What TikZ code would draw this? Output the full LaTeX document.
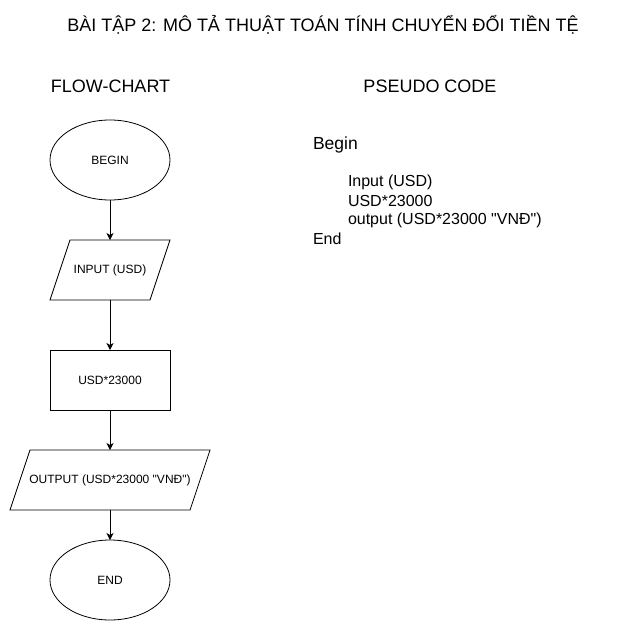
\documentclass[tikz,border=0pt]{standalone}
\usepackage{fontspec}
\setmainfont{Liberation Sans}
\newfontfamily\arial{Liberation Sans}
\usetikzlibrary{arrows.meta,shapes.geometric}
\begin{document}
\begin{tikzpicture}[x=1pt,y=-1pt,
  every node/.style={inner sep=0pt, outer sep=0pt},
  fc/.style={font=\arial\fontsize{12}{14}\selectfont, draw=black, line width=0.8pt},
  term/.style={fc, ellipse, minimum width=120pt, minimum height=80pt},
  proc/.style={fc, rectangle, minimum width=120pt, minimum height=60pt},
  io/.style={font=\arial\fontsize{12}{14}\selectfont, rectangle, minimum height=60pt},
  iobox/.style={draw=black, line width=0.8pt, line join=miter},
  head/.style={font=\arial\fontsize{18}{21}\selectfont},
  code/.style={font=\arial\fontsize{16}{19}\selectfont, anchor=west},
  arr/.style={draw=black, line width=0.8pt, -{Stealth[length=7pt,width=7pt,inset=2pt]}}
]
\useasboundingbox (0,0) rectangle (631,631);
\fill[white] (0,0) rectangle (631,631);

\node[head] (title) at (323,25) {BÀI TẬP 2: MÔ TẢ THUẬT TOÁN TÍNH CHUYỂN ĐỔI TIỀN TỆ};
\node[head] (fchead) at (110.5,86) {FLOW-CHART};
\node[head] (pchead) at (430,86) {PSEUDO CODE};

\node[term] (begin) at (110,160) {BEGIN};
\node[io, minimum width=100pt] (input) at (110,270) {INPUT (USD)};
\draw[iobox] ([xshift=10pt]input.north west) -- ([xshift=10pt]input.north east)
  -- ([xshift=-10pt]input.south east) -- ([xshift=-10pt]input.south west) -- cycle;
\node[proc] (calc) at (110,380) {USD*23000};
\node[io, minimum width=180pt] (output) at (110,480) {OUTPUT (USD*23000 "VNĐ")};
\draw[iobox] ([xshift=10pt]output.north west) -- ([xshift=10pt]output.north east)
  -- ([xshift=-10pt]output.south east) -- ([xshift=-10pt]output.south west) -- cycle;
\node[term] (end) at (110,580) {END};

\draw[arr] (begin) -- (input);
\draw[arr] (input) -- (calc);
\draw[arr] (calc) -- (output);
\draw[arr] (output) -- (end);

\node[code, font=\arial\fontsize{17.5}{21}\selectfont] (pbegin) at (313,145) {Begin};
\node[code] (pinput) at (348,182) {Input (USD)};
\node[code] (pcalc) at (348,201) {USD*23000};
\node[code] (pout) at (348,220) {output (USD*23000 "VNĐ")};
\node[code] (pend) at (313,239) {End};
\end{tikzpicture}
\end{document}
